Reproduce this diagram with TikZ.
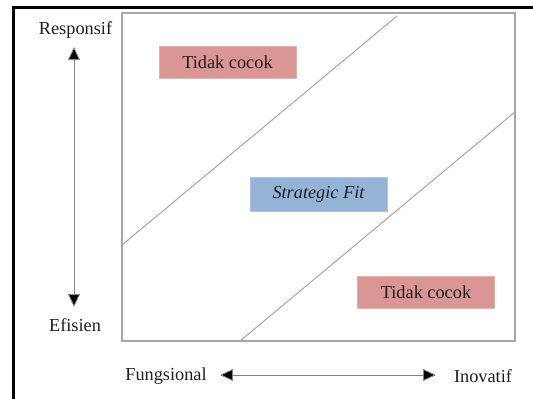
\documentclass[tikz,border=0pt]{standalone}
\usepackage{fontspec}
\setmainfont{Liberation Serif}
\usetikzlibrary{arrows.meta}
\definecolor{redfill}{HTML}{D99694}
\definecolor{redline}{HTML}{E6B0AE}
\definecolor{bluefill}{HTML}{95B3D7}
\definecolor{blueline}{HTML}{B0C6E2}
\definecolor{txt}{HTML}{1E1E1E}
\definecolor{frame}{HTML}{A6A6A6}
\begin{document}
\begin{tikzpicture}[x=1pt,y=-1pt,
  lbl/.style={font=\fontsize{18.3}{20}\selectfont, text=txt, inner sep=0pt},
  redbox/.style={lbl, fill=redfill, draw=redline, line width=0.8pt, minimum width=137pt, minimum height=32pt},
  bluebox/.style={lbl, fill=bluefill, draw=blueline, line width=0.8pt, minimum width=137pt, minimum height=34pt},
  diag/.style={draw=frame, line width=1pt},
  axarrow/.style={draw=frame!80!black, line width=0.9pt, {Triangle[width=12pt,length=13pt,fill=black]}-{Triangle[width=12pt,length=13pt,fill=black]}}
]
\useasboundingbox (0,0) rectangle (533,399);
\begin{scope}
\clip (0,0) rectangle (533,399);
\draw[line width=3pt, black] (13,402) -- (13,7) -- (536,7);
\end{scope}
% inner box
\draw[frame, line width=1.4pt] (122,13) rectangle (515,341);
% diagonals
\coordinate (d1a) at (122,245);
\coordinate (d1b) at (397,16);
\coordinate (d2a) at (240,341);
\coordinate (d2b) at (515,112);
\draw[diag] (d1a) -- (d1b);
\draw[diag] (d2a) -- (d2b);
% boxes
\node[redbox] (tc1) at (227.5,62) {Tidak cocok};
\node[bluebox] (sf) at (318.5,194) {\itshape Strategic Fit};
\node[redbox] (tc2) at (426,292) {Tidak cocok};
% axis labels
\node[lbl] (resp) at (75.5,30) {Responsif};
\node[lbl] (efi) at (75,325) {Efisien};
\node[lbl] (fung) at (166,376) {Fungsional};
\node[lbl] (inov) at (483,376) {Inovatif};
% arrows
\coordinate (vt) at (74,47);
\coordinate (vb) at (74,307);
\coordinate (hl) at (220,375);
\coordinate (hr) at (436,375);
\draw[axarrow] (vt) -- (vb);
\draw[axarrow] (hl) -- (hr);
\end{tikzpicture}
\end{document}
